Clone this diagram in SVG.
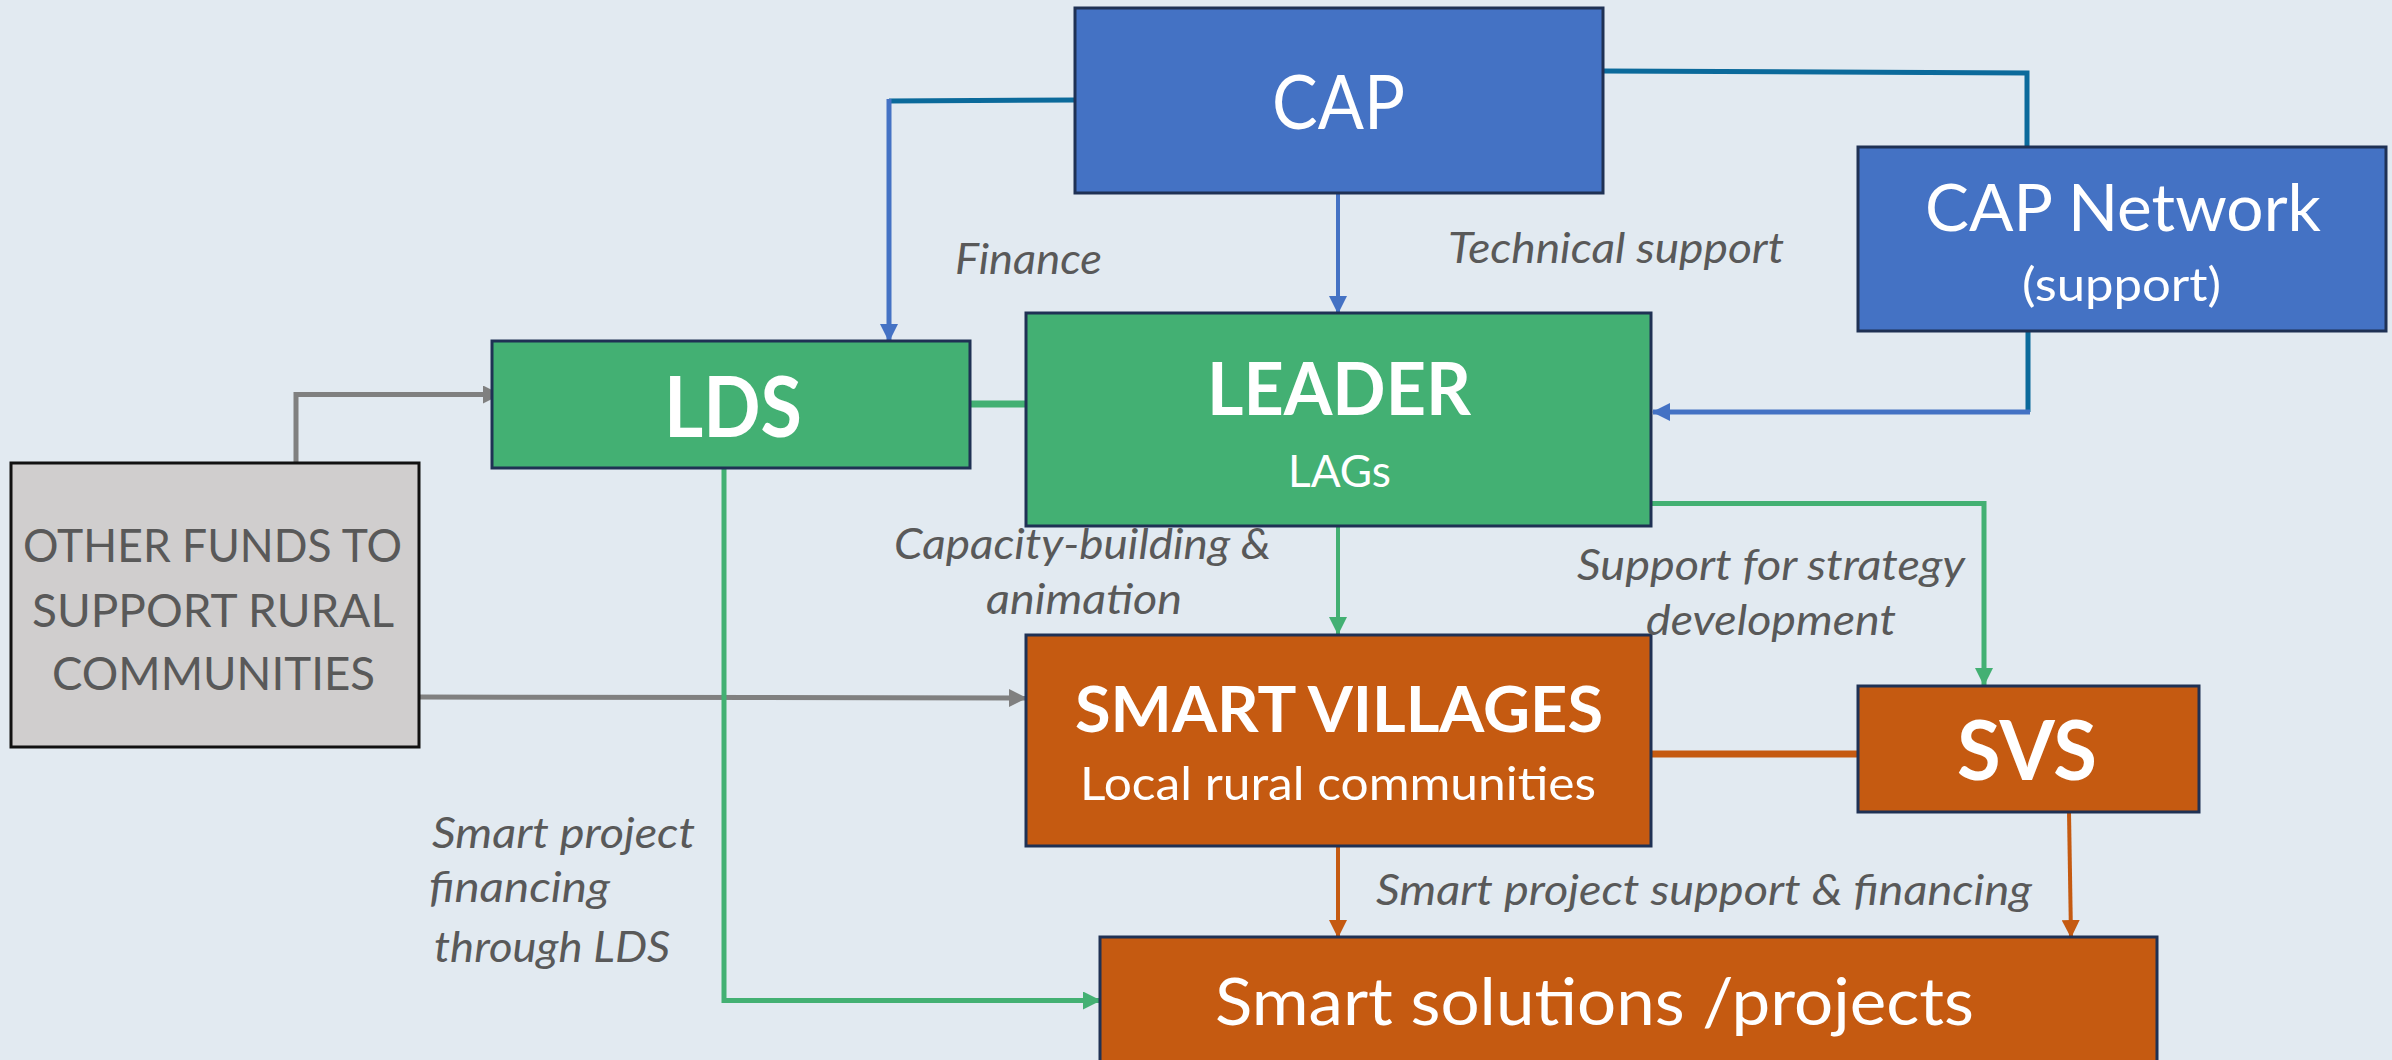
<svg xmlns="http://www.w3.org/2000/svg" width="2392" height="1060" viewBox="0 0 2392 1060">
<defs>
<style>
.box{stroke:#1f3154;stroke-width:3}
.blue{fill:#4472c4}
.green{fill:#43b073}
.orange{fill:#c55a11}
.grey{fill:#d0cece;stroke:#111;stroke-width:3}
.t{font-family:Lato,"Liberation Sans",sans-serif;fill:#fff}
.b{font-weight:bold}
.lab{font-family:Lato,"Liberation Sans",sans-serif;font-style:italic;fill:#595959;font-size:42px}
.dark{fill:#595959}
.c{fill:none}
</style>
<marker id="aBlue" markerUnits="userSpaceOnUse" markerWidth="18" markerHeight="18" refX="17" refY="9" orient="auto"><path d="M0,0 L18,9 L0,18 z" fill="#4472c4"/></marker>
<marker id="aGreen" markerUnits="userSpaceOnUse" markerWidth="18" markerHeight="18" refX="17" refY="9" orient="auto"><path d="M0,0 L18,9 L0,18 z" fill="#43b073"/></marker>
<marker id="aGrey" markerUnits="userSpaceOnUse" markerWidth="18" markerHeight="18" refX="17" refY="9" orient="auto"><path d="M0,0 L18,9 L0,18 z" fill="#808080"/></marker>
<marker id="aOrange" markerUnits="userSpaceOnUse" markerWidth="18" markerHeight="18" refX="17" refY="9" orient="auto"><path d="M0,0 L18,9 L0,18 z" fill="#c55a11"/></marker>
</defs>
<rect x="0" y="0" width="2392" height="1060" fill="#e2eaf1"/>

<g id="connectors">
<path class="c" d="M1075,100 L889,101" stroke="#0b6a9b" stroke-width="5"/>
<path class="c" d="M889,99 V341" stroke="#4472c4" stroke-width="5" marker-end="url(#aBlue)"/>
<path class="c" d="M1338,193 V313" stroke="#4472c4" stroke-width="4" marker-end="url(#aBlue)"/>
<path class="c" d="M1603,71 L2027,73 V147" stroke="#0b6a9b" stroke-width="5"/>
<path class="c" d="M2028,331 V412" stroke="#0b6a9b" stroke-width="5"/>
<path class="c" d="M2030,412 H1653" stroke="#4472c4" stroke-width="5" marker-end="url(#aBlue)"/>
<path class="c" d="M970,404 H1026" stroke="#43b073" stroke-width="7"/>
<path class="c" d="M296,463 V394.5 H500" stroke="#808080" stroke-width="5" marker-end="url(#aGrey)"/>
<path class="c" d="M419,697 L1026,698" stroke="#808080" stroke-width="5" marker-end="url(#aGrey)"/>
<path class="c" d="M724,468 V1000.5 H1100" stroke="#43b073" stroke-width="5" marker-end="url(#aGreen)"/>
<path class="c" d="M1338,526 V634" stroke="#43b073" stroke-width="4" marker-end="url(#aGreen)"/>
<path class="c" d="M1651,503.5 H1984 V685" stroke="#43b073" stroke-width="5" marker-end="url(#aGreen)"/>
<path class="c" d="M1651,754 H1858" stroke="#c55a11" stroke-width="7"/>
<path class="c" d="M1338,846 V937" stroke="#c55a11" stroke-width="4" marker-end="url(#aOrange)"/>
<path class="c" d="M2069,812 L2071,937" stroke="#c55a11" stroke-width="4" marker-end="url(#aOrange)"/>
</g>

<g id="cap">
<rect class="box blue" x="1075" y="8" width="528" height="185"/>
<text class="t" x="1272" y="129" font-size="75" textLength="133" lengthAdjust="spacingAndGlyphs">CAP</text>
</g>
<g id="cap-network">
<rect class="box blue" x="1858" y="147" width="528" height="184"/>
<text class="t" x="1925" y="231" font-size="66" textLength="396" lengthAdjust="spacingAndGlyphs">CAP Network</text>
<text class="t" x="2022" y="301" font-size="47" textLength="199" lengthAdjust="spacingAndGlyphs">(support)</text>
</g>
<g id="lds">
<rect class="box green" x="492" y="341" width="478" height="127"/>
<text class="t b" x="664" y="437" font-size="85" textLength="138" lengthAdjust="spacingAndGlyphs">LDS</text>
</g>
<g id="leader">
<rect class="box green" x="1026" y="313" width="625" height="213"/>
<text class="t b" x="1207" y="415" font-size="73" textLength="264" lengthAdjust="spacingAndGlyphs">LEADER</text>
<text class="t" x="1288" y="487" font-size="45" textLength="103" lengthAdjust="spacingAndGlyphs">LAGs</text>
</g>
<g id="other-funds">
<rect class="grey" x="11" y="463" width="408" height="284"/>
<text class="t dark" x="23" y="562" font-size="46" textLength="379" lengthAdjust="spacingAndGlyphs">OTHER FUNDS TO</text>
<text class="t dark" x="32" y="627" font-size="46" textLength="362" lengthAdjust="spacingAndGlyphs">SUPPORT RURAL</text>
<text class="t dark" x="52" y="690" font-size="46" textLength="323" lengthAdjust="spacingAndGlyphs">COMMUNITIES</text>
</g>
<g id="smart-villages">
<rect class="box orange" x="1026" y="635" width="625" height="211"/>
<text class="t b" x="1075" y="732" font-size="64" textLength="528" lengthAdjust="spacingAndGlyphs">SMART VILLAGES</text>
<text class="t" x="1080" y="800" font-size="47" textLength="516" lengthAdjust="spacingAndGlyphs">Local rural communities</text>
</g>
<g id="svs">
<rect class="box orange" x="1858" y="686" width="341" height="126"/>
<text class="t b" x="1957" y="780" font-size="82" textLength="140" lengthAdjust="spacingAndGlyphs">SVS</text>
</g>
<g id="smart-solutions">
<rect class="box orange" x="1100" y="937" width="1057" height="140"/>
<text class="t" x="1215" y="1025" font-size="66" textLength="759" lengthAdjust="spacingAndGlyphs">Smart solutions /projects</text>
</g>

<g id="labels">
<text class="lab" x="955" y="274" textLength="147" lengthAdjust="spacingAndGlyphs">Finance</text>
<text class="lab" x="1448" y="263" textLength="336" lengthAdjust="spacingAndGlyphs">Technical support</text>
<text class="lab" x="894" y="559" textLength="377" lengthAdjust="spacingAndGlyphs">Capacity-building &amp;</text>
<text class="lab" x="986" y="614" textLength="196" lengthAdjust="spacingAndGlyphs">animation</text>
<text class="lab" x="1577" y="580" textLength="388" lengthAdjust="spacingAndGlyphs">Support for strategy</text>
<text class="lab" x="1646" y="635" textLength="250" lengthAdjust="spacingAndGlyphs">development</text>
<text class="lab" x="432" y="848" textLength="263" lengthAdjust="spacingAndGlyphs">Smart project</text>
<text class="lab" x="429" y="902" textLength="181" lengthAdjust="spacingAndGlyphs">financing</text>
<text class="lab" x="434" y="962" textLength="236" lengthAdjust="spacingAndGlyphs">through LDS</text>
<text class="lab" x="1376" y="905" textLength="656" lengthAdjust="spacingAndGlyphs">Smart project support &amp; financing</text>
</g>
</svg>
